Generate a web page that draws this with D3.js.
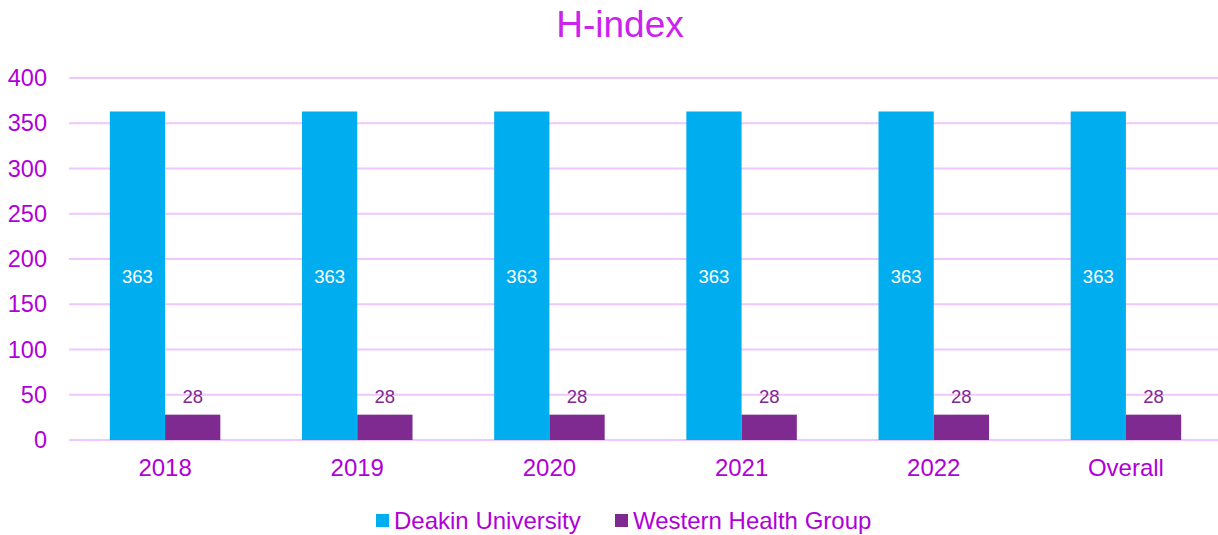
<!DOCTYPE html>
<html>
<head>
<meta charset="utf-8">
<script src="https://cdn.jsdelivr.net/npm/d3@7"></script>
<style>
  body { margin: 0; background: #fff; }
  text { font-family: "Liberation Sans", Arial, sans-serif; }
</style>
</head>
<body>
<div id="chart"></div>
<script>
var categories = ["2018", "2019", "2020", "2021", "2022", "Overall"];
var seriesNames = ["Deakin University", "Western Health Group"];
var deakin = [363, 363, 363, 363, 363, 363];
var western = [28, 28, 28, 28, 28, 28];
var yTicks = [0, 50, 100, 150, 200, 250, 300, 350, 400];

var width = 1218;
var height = 535;
var margin = { top: 78, right: -4, bottom: 95, left: 69 };

var colors = ["#00AEEF", "#7F2A90"];
var textColor = "#B000D8";

var svg = d3.select("#chart")
    .append("svg")
    .attr("width", width)
    .attr("height", height);

var x = d3.scaleBand()
    .domain(categories)
    .range([margin.left, width - margin.right])
    .paddingInner(0.425)
    .paddingOuter(0.2125);

var x1 = d3.scaleBand()
    .domain(seriesNames)
    .range([0, x.bandwidth()]);

var y = d3.scaleLinear()
    .domain([0, 400])
    .range([height - margin.bottom, margin.top]);

// gridlines
svg.append("g")
    .selectAll("line")
    .data(yTicks)
    .enter().append("line")
    .attr("x1", margin.left)
    .attr("x2", width)
    .attr("y1", d => y(d))
    .attr("y2", d => y(d))
    .attr("stroke", "#F0C6FF")
    .attr("stroke-width", 2);

// y axis labels
var yAxis = svg.append("g")
    .attr("transform", "translate(" + (margin.left - 22) + ",0)")
    .call(d3.axisLeft(y).tickValues(yTicks).tickSize(0).tickPadding(0));
yAxis.select(".domain").remove();
yAxis.selectAll("text")
    .attr("fill", textColor)
    .style("font-size", "23.5px");

// x axis labels
var xAxis = svg.append("g")
    .attr("transform", "translate(0," + (height - margin.bottom) + ")")
    .call(d3.axisBottom(x).tickSize(0).tickPadding(19));
xAxis.select(".domain").remove();
xAxis.selectAll("text")
    .attr("fill", textColor)
    .style("font-size", "24px");

var rows = categories.map((c, i) => ({ cat: c, values: [deakin[i], western[i]] }));

var groups = svg.selectAll(".group")
    .data(rows)
    .enter().append("g")
    .attr("class", "group")
    .attr("transform", d => "translate(" + x(d.cat) + ",0)");

groups.selectAll("rect")
    .data(d => d.values.map((v, j) => ({ name: seriesNames[j], value: v, j: j })))
    .enter().append("rect")
    .attr("x", d => x1(d.name))
    .attr("width", x1.bandwidth())
    .attr("y", d => y(d.value))
    .attr("height", d => y(0) - y(d.value))
    .attr("fill", d => colors[d.j]);

// value labels
groups.selectAll(".val")
    .data(d => d.values.map((v, j) => ({ name: seriesNames[j], value: v, j: j })))
    .enter().append("text")
    .attr("class", "val")
    .attr("x", d => x1(d.name) + x1.bandwidth() / 2)
    .attr("y", d => d.j === 0 ? (y(d.value) + y(0)) / 2 + 7 : y(d.value) - 12)
    .attr("text-anchor", "middle")
    .attr("fill", d => d.j === 0 ? "#ffffff" : "#7F2A90")
    .style("font-size", "18.5px")
    .text(d => d.value);

// title
svg.append("text")
    .attr("x", 620)
    .attr("y", 37)
    .attr("text-anchor", "middle")
    .attr("fill", "#CC22EE")
    .style("font-size", "37px")
    .text("H-index");

// legend
var legendX = [376, 615];
var legend = svg.selectAll(".legend")
    .data(seriesNames)
    .enter().append("g")
    .attr("class", "legend")
    .attr("transform", (d, i) => "translate(" + legendX[i] + ",514)");
legend.append("rect")
    .attr("width", 13)
    .attr("height", 13)
    .attr("fill", (d, i) => colors[i]);
legend.append("text")
    .attr("x", 18)
    .attr("y", 15)
    .attr("fill", textColor)
    .style("font-size", "24px")
    .text(d => d);
</script>
</body>
</html>
